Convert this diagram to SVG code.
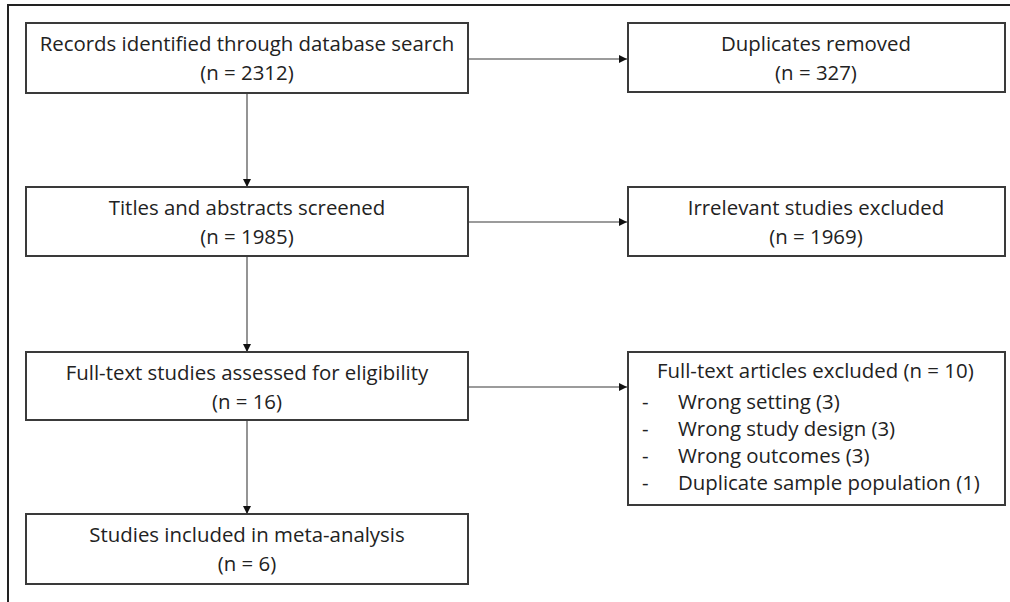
<svg xmlns="http://www.w3.org/2000/svg" width="1010" height="602" viewBox="0 0 1010 602">
<defs>
<style>
.box{fill:#fff;stroke:#3a3a3a;stroke-width:2}
.t{font-family:"Open Sans",sans-serif;font-size:20.4px;fill:#222;text-anchor:middle}
.l{font-family:"Open Sans",sans-serif;font-size:20.4px;fill:#222}
.c{stroke:#7a7a7a;stroke-width:1.6;fill:none}
.frame{stroke:#222;stroke-width:2;fill:none}
</style>
<marker id="ah" markerWidth="10" markerHeight="10" refX="9" refY="5" orient="auto" markerUnits="userSpaceOnUse">
<path d="M1,1 L9,5 L1,9 Z" fill="#111"/>
</marker>
</defs>
<rect width="1010" height="602" fill="#fff"/>
<path class="frame" d="M8,602 V5 H1010"/>
<g id="connectors">
<line class="c" x1="468" y1="59" x2="627" y2="59" marker-end="url(#ah)"/>
<line class="c" x1="247" y1="93" x2="247" y2="187" marker-end="url(#ah)"/>
<line class="c" x1="468" y1="222" x2="627" y2="222" marker-end="url(#ah)"/>
<line class="c" x1="247" y1="256" x2="247" y2="352" marker-end="url(#ah)"/>
<line class="c" x1="468" y1="387" x2="627" y2="387" marker-end="url(#ah)"/>
<line class="c" x1="247" y1="420" x2="247" y2="514" marker-end="url(#ah)"/>
</g>
<g id="records">
<rect class="box" x="26" y="23" width="442" height="70"/>
<text class="t" x="247" y="51">Records identified through database search</text>
<text class="t" x="247" y="80">(n = 2312)</text>
</g>
<g id="duplicates">
<rect class="box" x="628" y="23" width="377" height="69"/>
<text class="t" x="816" y="51">Duplicates removed</text>
<text class="t" x="816" y="80">(n = 327)</text>
</g>
<g id="screened">
<rect class="box" x="26" y="187" width="442" height="69"/>
<text class="t" x="247" y="215">Titles and abstracts screened</text>
<text class="t" x="247" y="244">(n = 1985)</text>
</g>
<g id="irrelevant">
<rect class="box" x="628" y="187" width="377" height="69"/>
<text class="t" x="816" y="215">Irrelevant studies excluded</text>
<text class="t" x="816" y="244">(n = 1969)</text>
</g>
<g id="fulltext">
<rect class="box" x="26" y="352" width="442" height="68"/>
<text class="t" x="247" y="380">Full-text studies assessed for eligibility</text>
<text class="t" x="247" y="409">(n = 16)</text>
</g>
<g id="excluded">
<rect class="box" x="628" y="352" width="377" height="153"/>
<text class="l" x="657" y="378">Full-text articles excluded (n = 10)</text>
<text class="l" x="642" y="409">-</text><text class="l" x="678" y="409">Wrong setting (3)</text>
<text class="l" x="642" y="436">-</text><text class="l" x="678" y="436">Wrong study design (3)</text>
<text class="l" x="642" y="463">-</text><text class="l" x="678" y="463">Wrong outcomes (3)</text>
<text class="l" x="642" y="490">-</text><text class="l" x="678" y="490">Duplicate sample population (1)</text>
</g>
<g id="included">
<rect class="box" x="26" y="514" width="442" height="70"/>
<text class="t" x="247" y="542">Studies included in meta-analysis</text>
<text class="t" x="247" y="571">(n = 6)</text>
</g>
</svg>
